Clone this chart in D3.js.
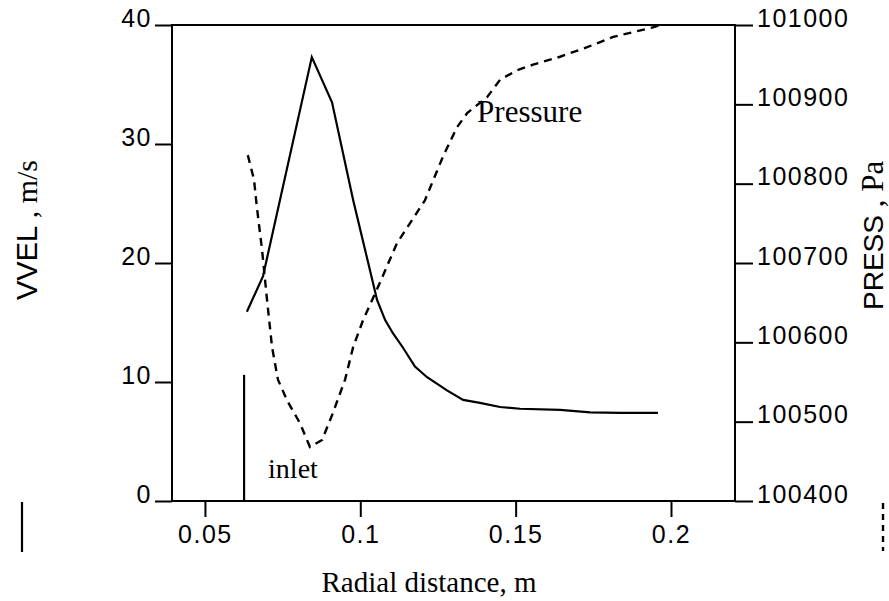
<!DOCTYPE html>
<html>
<head>
<meta charset="utf-8">
<script src="https://cdnjs.cloudflare.com/ajax/libs/d3/7.8.5/d3.min.js"></script>
<style>
  body { margin: 0; background: #fff; }
  svg { display: block; }
</style>
</head>
<body>
<script>
var width = 889;
var height = 601;

// velocity curve (solid), radial distance in m, VVEL in m/s
var velR = [0.0635, 0.0687, 0.0844, 0.0909, 0.0977, 0.1054, 0.1080, 0.1105, 0.1137, 0.1176,
            0.1215, 0.1279, 0.1331, 0.1385, 0.1450, 0.1514, 0.1643, 0.1740, 0.1836, 0.1958];
var velValues = [15.9, 18.9, 37.3, 33.5, 25.3, 16.9, 15.2, 14.1, 12.9, 11.3,
                 10.4, 9.3, 8.5, 8.25, 7.9, 7.75, 7.66, 7.45, 7.4, 7.4];

// pressure curve (dashed), Pa
var pressR = [0.0638, 0.0658, 0.0667, 0.0684, 0.0700, 0.0716, 0.0735, 0.0764, 0.0806, 0.0838,
              0.0877, 0.0912, 0.0951, 0.0977, 0.1009, 0.1063, 0.1118, 0.1208, 0.1266, 0.1311,
              0.1344, 0.1408, 0.1450, 0.1505, 0.1556, 0.1643, 0.1730, 0.1814, 0.1878, 0.1942, 0.1965];
var pressValues = [100836, 100805, 100771, 100716, 100653, 100594, 100553, 100527, 100498, 100468,
                   100477, 100511, 100553, 100594, 100628, 100675, 100725, 100779, 100834, 100871,
                   100889, 100909, 100931, 100943, 100950, 100960, 100972, 100985, 100991, 100997, 101000];

// inlet marker
var inletR = 0.0626;
var inletTop = 10.6;

var xTicks = [0.05, 0.1, 0.15, 0.2];
var xTickLabels = ["0.05", "0.1", "0.15", "0.2"];
var velTicks = [0, 10, 20, 30, 40];
var pressTicks = [100400, 100500, 100600, 100700, 100800, 100900, 101000];

var plotLeft = 172, plotRight = 735, plotTop = 25, plotBottom = 501;

var sans = "'Liberation Sans', Arial, sans-serif";
var serif = "'Liberation Serif', 'Times New Roman', serif";

var svg = d3.select("body").append("svg")
  .attr("width", width)
  .attr("height", height);

svg.append("rect").attr("width", width).attr("height", height).attr("fill", "#fff");

var x = d3.scaleLinear().domain([0.0394, 0.2206]).range([plotLeft, plotRight]);
var yVel = d3.scaleLinear().domain([0, 40]).range([plotBottom, plotTop]);
var yPress = d3.scaleLinear().domain([100400, 101000]).range([plotBottom, plotTop]);

// plot frame
svg.append("rect")
  .attr("x", plotLeft).attr("y", plotTop)
  .attr("width", plotRight - plotLeft).attr("height", plotBottom - plotTop)
  .attr("fill", "none").attr("stroke", "#000").attr("stroke-width", 2);

function styleAxis(g) {
  g.select(".domain").remove();
  g.selectAll(".tick line").attr("stroke", "#000").attr("stroke-width", 2);
  g.selectAll(".tick text")
    .attr("fill", "#000")
    .style("font-family", sans)
    .style("font-size", "25px")
    .style("letter-spacing", "1.5px");
}

svg.append("g")
  .attr("transform", "translate(" + plotLeft + ",0)")
  .call(d3.axisLeft(yVel).tickValues(velTicks).tickSize(17).tickPadding(3))
  .call(styleAxis)
  .call(function(g) { g.selectAll(".tick text").attr("dy", "0.05em"); });

svg.append("g")
  .attr("transform", "translate(" + plotRight + ",0)")
  .call(d3.axisRight(yPress).tickValues(pressTicks).tickFormat(d3.format("d"))
    .tickSize(18).tickPadding(4))
  .call(styleAxis)
  .call(function(g) { g.selectAll(".tick text").attr("dy", "0.05em"); });

svg.append("g")
  .attr("transform", "translate(0," + plotBottom + ")")
  .call(d3.axisBottom(x).tickValues(xTicks).tickFormat(function(d, i) { return xTickLabels[i]; })
    .tickSize(16).tickPadding(8))
  .call(styleAxis);

// curves
var velLine = d3.line()
  .x(function(d, i) { return x(velR[i]); })
  .y(function(d) { return yVel(d); });

var pressLine = d3.line()
  .x(function(d, i) { return x(pressR[i]); })
  .y(function(d) { return yPress(d); });

svg.append("path")
  .datum(velValues)
  .attr("d", velLine)
  .attr("fill", "none")
  .attr("stroke", "#000")
  .attr("stroke-width", 2.2);

svg.append("path")
  .datum(pressValues)
  .attr("d", pressLine)
  .attr("fill", "none")
  .attr("stroke", "#000")
  .attr("stroke-width", 2.4)
  .attr("stroke-dasharray", "8,6");

// inlet line
svg.append("line")
  .attr("x1", x(inletR)).attr("x2", x(inletR))
  .attr("y1", yVel(inletTop)).attr("y2", yVel(0))
  .attr("stroke", "#000").attr("stroke-width", 2.2);

svg.append("text")
  .attr("x", x(inletR) + 24).attr("y", yVel(1.9))
  .style("font-family", serif).style("font-size", "28px")
  .text("inlet");

svg.append("text")
  .attr("x", x(0.1376)).attr("y", yPress(100878))
  .style("font-family", serif).style("font-size", "31px")
  .text("Pressure");

// axis titles
svg.append("text")
  .attr("x", 429).attr("y", 592)
  .attr("text-anchor", "middle")
  .style("font-family", serif).style("font-size", "29px")
  .text("Radial distance, m");

var lt = svg.append("text")
  .attr("transform", "translate(37,300) rotate(-90)");
lt.append("tspan").style("font-family", sans).style("font-size", "29px").text("VVEL");
lt.append("tspan").style("font-family", serif).style("font-size", "30px").text(" , m/s");

var rt = svg.append("text")
  .attr("transform", "translate(883,310) rotate(-90)");
rt.append("tspan").style("font-family", sans).style("font-size", "28px").text("PRESS");
rt.append("tspan").style("font-family", serif).style("font-size", "31px").text(" , Pa");

// legend line samples
svg.append("line")
  .attr("x1", 22).attr("x2", 22).attr("y1", 502).attr("y2", 552)
  .attr("stroke", "#000").attr("stroke-width", 2.2);

svg.append("line")
  .attr("x1", 883).attr("x2", 883).attr("y1", 503).attr("y2", 551)
  .attr("stroke", "#000").attr("stroke-width", 2.4)
  .attr("stroke-dasharray", "6,5");
</script>
</body>
</html>
